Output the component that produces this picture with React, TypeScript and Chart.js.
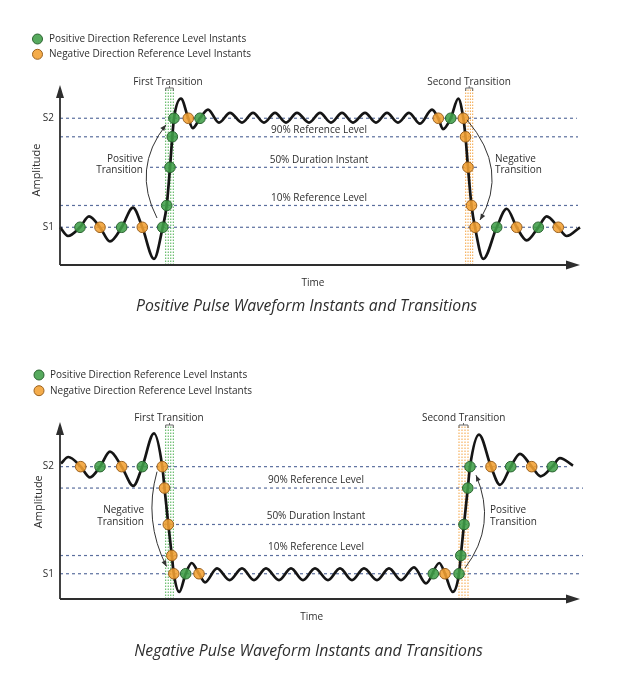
import React, { useEffect, useRef } from "react";
import { Chart, registerables } from "chart.js";

Chart.register(...registerables);

type Pt = [number, number];

// ---------- shared text ----------
const legendLabels = [
  "Positive Direction Reference Level Instants",
  "Negative Direction Reference Level Instants",
];
const yTickLabels = ["S1", "S2"];
const levelLabels = ["10% Reference Level", "50% Duration Instant", "90% Reference Level"];
const transitionLabels = ["First Transition", "Second Transition"];
const xAxisLabel = "Time";
const yAxisLabel = "Amplitude";

// ---------- positive pulse (top) ----------
const posTitle = "Positive Pulse Waveform Instants and Transitions";
const posLevels = [0, 0.2, 0.55, 0.83, 1]; // S1, 10%, 50%, 90%, S2
const posWave: Pt[] = [
  [60, 0.0], [68, -0.08], [80, 0], [89, 0.1], [100, 0], [110, -0.13], [121.7, 0], [133, 0.18],
  [142.3, 0], [154, -0.29], [162.7, 0], [166.7, 0.2], [170, 0.55], [172.3, 0.83], [174, 1],
  [181, 1.18], [188.3, 1], [192.7, 0.91], [200, 1], [208, 1.08], [219, 0.96], [230, 1.05],
  [242, 0.96], [253, 1.05], [264, 0.96], [275, 1.05], [286, 0.96], [297, 1.05], [309, 0.96],
  [320, 1.05], [331, 0.96], [342, 1.05], [353, 0.96], [365, 1.05], [376, 0.96], [387, 1.05],
  [398, 0.96], [409, 1.05], [420, 0.95], [432, 1.08], [438.3, 1], [443, 0.9], [450.7, 1],
  [458.3, 1.18], [463.3, 1], [465.5, 0.83], [468, 0.55], [471.5, 0.2], [475, 0], [483.3, -0.29],
  [496.7, 0], [506.7, 0.17], [516.7, 0], [526.7, -0.12], [538.3, 0], [546.7, 0.1], [558.3, 0],
  [566.7, -0.08], [580, 0.0],
];
const posGreen: Pt[] = [
  [80, 0], [121.7, 0], [162.7, 0], [166.7, 0.2], [170, 0.55], [172.3, 0.83], [174, 1], [200, 1],
  [450.7, 1], [496.7, 0], [538.3, 0],
];
const posOrange: Pt[] = [
  [100, 0], [142.3, 0], [188.3, 1], [438.3, 1], [463.3, 1], [465.5, 0.83], [468, 0.55],
  [471.5, 0.2], [475, 0], [516.7, 0], [558.3, 0],
];
const posArrowLabels = [["Positive", "Transition"], ["Negative", "Transition"]];

// ---------- negative pulse (bottom) ----------
const negTitle = "Negative Pulse Waveform Instants and Transitions";
const negLevels = [0, 0.17, 0.46, 0.8, 1];
const negWave: Pt[] = [
  [61, 1.03], [68.3, 1.09], [80.7, 1], [90, 0.9], [100, 1], [110, 1.14], [121.7, 1], [133.3, 0.82],
  [142.3, 1], [154, 1.31], [162.3, 1], [164.5, 0.8], [168.3, 0.46], [171.8, 0.17], [173.8, 0],
  [179.3, -0.17], [185.7, 0], [191.7, 0.1], [199, 0], [205, -0.08], [217, 0.05], [229.6, -0.06],
  [242, 0.05], [254, -0.06], [266, 0.05], [279, -0.06], [291, 0.05], [303, -0.06], [315, 0.05],
  [328, -0.06], [340, 0.05], [352, -0.06], [364, 0.05], [377, -0.06], [389, 0.05], [401, -0.06],
  [414, 0.06], [426, -0.09], [439.3, 0.1], [445, 0], [452.7, -0.17], [459, 0], [460.8, 0.17],
  [464, 0.46], [467.8, 0.8], [470, 1], [479, 1.3], [491, 1], [500, 0.83], [510.7, 1], [520, 1.12],
  [531.7, 1], [540.7, 0.91], [552.3, 1], [560, 1.08], [573, 1.01],
];
const negGreen: Pt[] = [
  [100, 1], [142.3, 1], [185.7, 0], [433.3, 0], [459, 0], [460.8, 0.17], [464, 0.46],
  [467.8, 0.8], [470, 1], [510.7, 1], [552.3, 1],
];
const negOrange: Pt[] = [
  [80.7, 1], [121.7, 1], [162.3, 1], [164.5, 0.8], [168.3, 0.46], [171.8, 0.17], [173.8, 0],
  [199, 0], [445, 0], [491, 1], [531.7, 1],
];
const negArrowLabels = [["Negative", "Transition"], ["Positive", "Transition"]];

// ---------- styles ----------
const GREEN_FILL = "rgba(64,158,72,0.88)";
const GREEN_EDGE = "#2a6330";
const ORANGE_FILL = "rgba(243,160,50,0.88)";
const ORANGE_EDGE = "#9a601d";
const REF_COLOR = "#5b6f9e";
const TEXT = "#2e2e2e";
const FONT = '"Open Sans", "Noto Sans", sans-serif';
const SMALL = `10px ${FONT}`;

// ---------- layout (positions, not data) ----------
const posLayout = {
  height: 337,
  padTop: 85,
  padBottom: 72,
  yMin: -0.346,
  yMax: 1.305,
  lineSpans: [[60, 577], [60, 578], [150, 477], [60, 578], [60, 577]],
  bands: [
    { x0: 165.7, x1: 173.3, color: "#4caf50", labelX: 168 },
    { x0: 465.7, x1: 472.7, color: "#f4a340", labelX: 469 },
  ],
  bandTop: 89,
  bandLabelY: 82,
  arrows: [
    { p0: [157, 0.085], mid: [146.5, 0.526], p1: [166, 0.94] },
    { p0: [467, 0.985], mid: [491.5, 0.526], p1: [480, 0.067] },
  ],
  arrowText: [
    { x: 143, y: 0.576, align: "right" },
    { x: 495, y: 0.576, align: "left" },
  ],
  levelLabelX: 319,
  levelLabelDy: -7,
  legend: { cx: 37.5, ys: [39, 54.3], tx: 49 },
  amp: { x: 36.5, y: 170 },
  time: { x: 313, y: 283.3 },
  title: { x: 306.5, y: 306.7 },
};

const negLayout = {
  height: 338,
  padTop: 85,
  padBottom: 76,
  yMin: -0.236,
  yMax: 1.417,
  lineSpans: [[60, 580], [60, 583], [158, 470], [60, 583], [60, 568]],
  bands: [
    { x0: 165.7, x1: 173.3, color: "#4caf50", labelX: 169 },
    { x0: 459, x1: 468, color: "#f4a340", labelX: 463.7 },
  ],
  bandTop: 89,
  bandLabelY: 81.3,
  arrows: [
    { p0: [157, 0.953], mid: [152.5, 0.503], p1: [166.5, 0.068] },
    { p0: [465, 0.053], mid: [484, 0.47], p1: [476, 0.92] },
  ],
  arrowText: [
    { x: 144, y: 0.536, align: "right" },
    { x: 490, y: 0.538, align: "left" },
  ],
  levelLabelX: 316,
  levelLabelDy: -8,
  legend: { cx: 39, ys: [38, 53.7], tx: 50 },
  amp: { x: 38.7, y: 164.7 },
  time: { x: 311.7, y: 280.3 },
  title: { x: 308.5, y: 314 },
};

type Spec = {
  title: string;
  levels: number[];
  wave: Pt[];
  green: Pt[];
  orange: Pt[];
  arrowLabels: string[][];
  layout: typeof posLayout;
};

const specs: Spec[] = [
  { title: posTitle, levels: posLevels, wave: posWave, green: posGreen, orange: posOrange, arrowLabels: posArrowLabels, layout: posLayout },
  { title: negTitle, levels: negLevels, wave: negWave, green: negGreen, orange: negOrange, arrowLabels: negArrowLabels, layout: negLayout },
];

function txt(ctx: CanvasRenderingContext2D, s: string, x: number, y: number, font: string, align: CanvasTextAlign = "center") {
  ctx.save();
  ctx.font = font;
  ctx.fillStyle = TEXT;
  ctx.textAlign = align;
  ctx.textBaseline = "middle";
  ctx.fillText(s, x, y);
  ctx.restore();
}

function makePlugin(spec: Spec) {
  const L = spec.layout;
  return {
    id: "pulseDeco",
    beforeDatasetsDraw(chart: any) {
      const { ctx, chartArea } = chart;
      const xs = chart.scales.x;
      L.bands.forEach((b, bi) => {
        const px0 = xs.getPixelForValue(b.x0);
        const px1 = xs.getPixelForValue(b.x1);
        ctx.save();
        ctx.strokeStyle = b.color;
        ctx.lineWidth = 1;
        ctx.setLineDash([1.5, 1.5]);
        for (let i = 0; i < 4; i++) {
          const px = px0 + ((px1 - px0) * i) / 3;
          ctx.beginPath();
          ctx.moveTo(px, chartArea.bottom);
          ctx.lineTo(px, L.bandTop);
          ctx.stroke();
        }
        ctx.setLineDash([]);
        ctx.strokeStyle = "#666";
        ctx.beginPath();
        ctx.moveTo(px0, L.bandTop + 2);
        ctx.lineTo(px0, L.bandTop - 1);
        ctx.lineTo(px1, L.bandTop - 1);
        ctx.lineTo(px1, L.bandTop + 2);
        ctx.moveTo((px0 + px1) / 2, L.bandTop - 1);
        ctx.lineTo((px0 + px1) / 2, L.bandTop - 3);
        ctx.stroke();
        ctx.restore();
        txt(ctx, transitionLabels[bi], xs.getPixelForValue(b.labelX), L.bandLabelY, SMALL);
      });
    },
    afterDatasetsDraw(chart: any) {
      const { ctx, chartArea } = chart;
      const xs = chart.scales.x;
      const ys = chart.scales.y;
      // axes with arrows
      ctx.save();
      ctx.strokeStyle = "#2e2e2e";
      ctx.fillStyle = "#2e2e2e";
      ctx.lineWidth = 1.8;
      ctx.beginPath();
      ctx.moveTo(chartArea.left, chartArea.bottom);
      ctx.lineTo(chartArea.left, chartArea.top + 12);
      ctx.moveTo(chartArea.left, chartArea.bottom);
      ctx.lineTo(chartArea.right - 12, chartArea.bottom);
      ctx.stroke();
      ctx.beginPath();
      ctx.moveTo(chartArea.left, chartArea.top);
      ctx.lineTo(chartArea.left - 4, chartArea.top + 13);
      ctx.lineTo(chartArea.left + 4, chartArea.top + 13);
      ctx.closePath();
      ctx.fill();
      ctx.beginPath();
      ctx.moveTo(chartArea.right, chartArea.bottom);
      ctx.lineTo(chartArea.right - 14, chartArea.bottom - 4.5);
      ctx.lineTo(chartArea.right - 14, chartArea.bottom + 4.5);
      ctx.closePath();
      ctx.fill();
      ctx.restore();

      // S1 / S2 tick labels
      txt(ctx, yTickLabels[0], chartArea.left - 6, ys.getPixelForValue(spec.levels[0]), SMALL, "right");
      txt(ctx, yTickLabels[1], chartArea.left - 6, ys.getPixelForValue(spec.levels[4]), SMALL, "right");

      // level labels
      [1, 2, 3].forEach((li, k) => {
        txt(ctx, levelLabels[k], xs.getPixelForValue(L.levelLabelX), ys.getPixelForValue(spec.levels[li]) + L.levelLabelDy, SMALL);
      });

      // curved arrows
      L.arrows.forEach((a) => {
        const P0 = [xs.getPixelForValue(a.p0[0]), ys.getPixelForValue(a.p0[1])];
        const M = [xs.getPixelForValue(a.mid[0]), ys.getPixelForValue(a.mid[1])];
        const P1 = [xs.getPixelForValue(a.p1[0]), ys.getPixelForValue(a.p1[1])];
        const C = [2 * M[0] - (P0[0] + P1[0]) / 2, 2 * M[1] - (P0[1] + P1[1]) / 2];
        ctx.save();
        ctx.strokeStyle = "#333";
        ctx.fillStyle = "#333";
        ctx.lineWidth = 1;
        ctx.beginPath();
        ctx.moveTo(P0[0], P0[1]);
        ctx.quadraticCurveTo(C[0], C[1], P1[0], P1[1]);
        ctx.stroke();
        const dx = P1[0] - C[0];
        const dy = P1[1] - C[1];
        const len = Math.hypot(dx, dy);
        const ux = dx / len;
        const uy = dy / len;
        ctx.beginPath();
        ctx.moveTo(P1[0], P1[1]);
        ctx.lineTo(P1[0] - ux * 6 - uy * 2.5, P1[1] - uy * 6 + ux * 2.5);
        ctx.lineTo(P1[0] - ux * 6 + uy * 2.5, P1[1] - uy * 6 - ux * 2.5);
        ctx.closePath();
        ctx.fill();
        ctx.restore();
      });
      L.arrowText.forEach((t, i) => {
        const px = xs.getPixelForValue(t.x);
        const py = ys.getPixelForValue(t.y);
        txt(ctx, spec.arrowLabels[i][0], px, py - 5.8, SMALL, t.align as CanvasTextAlign);
        txt(ctx, spec.arrowLabels[i][1], px, py + 5.8, SMALL, t.align as CanvasTextAlign);
      });

      // legend
      [GREEN_FILL, ORANGE_FILL].forEach((fill, i) => {
        ctx.save();
        ctx.beginPath();
        ctx.arc(L.legend.cx, L.legend.ys[i], 5, 0, Math.PI * 2);
        ctx.fillStyle = fill;
        ctx.fill();
        ctx.strokeStyle = i === 0 ? GREEN_EDGE : ORANGE_EDGE;
        ctx.lineWidth = 1;
        ctx.stroke();
        ctx.restore();
        txt(ctx, legendLabels[i], L.legend.tx, L.legend.ys[i], SMALL, "left");
      });

      // axis titles
      ctx.save();
      ctx.translate(L.amp.x, L.amp.y);
      ctx.rotate(-Math.PI / 2);
      txt(ctx, yAxisLabel, 0, 0, `11px ${FONT}`);
      ctx.restore();
      txt(ctx, xAxisLabel, L.time.x, L.time.y, SMALL);
      txt(ctx, spec.title, L.title.x, L.title.y, `italic 15.8px ${FONT}`);
    },
  };
}

function buildConfig(spec: Spec): any {
  const L = spec.layout;
  const refSets = spec.levels.map((lv, i) => ({
    type: "line",
    data: [
      { x: L.lineSpans[i][0], y: lv },
      { x: L.lineSpans[i][1], y: lv },
    ],
    borderColor: REF_COLOR,
    borderWidth: 1.2,
    borderDash: [3, 3],
    pointRadius: 0,
    fill: false,
    order: 3,
    clip: false,
  }));
  return {
    type: "line",
    data: {
      datasets: [
        ...refSets,
        {
          data: spec.wave.map(([x, y]) => ({ x, y })),
          borderColor: "#151515",
          borderWidth: 2.7,
          pointRadius: 0,
          cubicInterpolationMode: "monotone",
          fill: false,
          order: 1,
          clip: false,
        },
        {
          data: spec.green.map(([x, y]) => ({ x, y })),
          showLine: false,
          pointRadius: 5.3,
          pointBackgroundColor: GREEN_FILL,
          pointBorderColor: GREEN_EDGE,
          pointBorderWidth: 1,
          order: 0,
          clip: false,
        },
        {
          data: spec.orange.map(([x, y]) => ({ x, y })),
          showLine: false,
          pointRadius: 5.3,
          pointBackgroundColor: ORANGE_FILL,
          pointBorderColor: ORANGE_EDGE,
          pointBorderWidth: 1,
          order: 0,
          clip: false,
        },
      ],
    },
    options: {
      responsive: false,
      animation: false,
      events: [],
      layout: { padding: { left: 60, right: 44, top: L.padTop, bottom: L.padBottom } },
      plugins: { legend: { display: false }, tooltip: { enabled: false } },
      scales: {
        x: { type: "linear", min: 60, max: 580, display: false },
        y: { type: "linear", min: L.yMin, max: L.yMax, display: false },
      },
    },
    plugins: [makePlugin(spec)],
  };
}

function PulseChart({ spec }: { spec: Spec }) {
  const ref = useRef<HTMLCanvasElement>(null);
  useEffect(() => {
    const chart = new Chart(ref.current as HTMLCanvasElement, buildConfig(spec));
    return () => chart.destroy();
  }, [spec]);
  return (
    <canvas
      ref={ref}
      width={624}
      height={spec.layout.height}
      style={{ display: "block", width: 624, height: spec.layout.height }}
    />
  );
}

export default function App() {
  return (
    <div style={{ position: "absolute", left: 0, top: 0, width: 624, height: 675, background: "#fff" }}>
      {specs.map((s, i) => (
        <PulseChart key={i} spec={s} />
      ))}
    </div>
  );
}
